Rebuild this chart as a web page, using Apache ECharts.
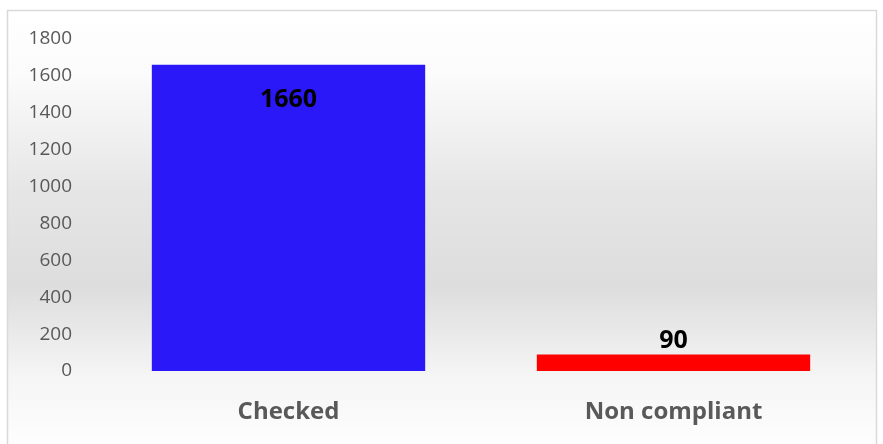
<!DOCTYPE html>
<html>
<head>
<meta charset="utf-8">
<script src="https://cdn.jsdelivr.net/npm/echarts@6/dist/echarts.min.js"></script>
<style>
    html, body { margin: 0; padding: 0; background: #ffffff; }
    #chart { width: 883px; height: 444px; }
</style>
</head>
<body>
<div id="chart"></div>
<script>
// data
const categories = ["Checked", "Non compliant"];
const counts = [1660, 90];
const barColors = ["#2B18F9", "#FF0000"];
const labelPositions = ["insideTop", "top"];

const chartElement = document.getElementById("chart");
const myChart = echarts.init(chartElement);

const option = {
    backgroundColor: "#ffffff",
    animation: false,
    graphic: [
        {
            type: "rect",
            z: -10,
            shape: { x: 7.5, y: 10.5, width: 869, height: 445 },
            style: {
                fill: {
                    type: "linear",
                    x: 0, y: 0, x2: 0, y2: 1,
                    colorStops: [
                        { offset: 0, color: "#ffffff" },
                        { offset: 0.15, color: "#fbfbfb" },
                        { offset: 0.4, color: "#e6e6e6" },
                        { offset: 0.62, color: "#dddddd" },
                        { offset: 0.82, color: "#f5f5f5" },
                        { offset: 1, color: "#ffffff" },
                    ],
                },
                stroke: "#d9d9d9",
                lineWidth: 1.5,
            },
        },
    ],
    grid: {
        left: 96,
        right: 17,
        top: 39,
        bottom: 73,
    },
    xAxis: {
        type: "category",
        data: categories,
        axisLine: { show: false },
        axisTick: { show: false },
        axisLabel: {
            color: "#595959",
            fontFamily: "Open Sans",
            fontWeight: "bold",
            fontSize: 24,
            margin: 29,
        },
    },
    yAxis: {
        type: "value",
        min: 0,
        max: 1800,
        interval: 200,
        splitLine: { show: false },
        axisLine: { show: false },
        axisTick: { show: false },
        axisLabel: {
            color: "#595959",
            fontFamily: "Open Sans",
            fontSize: 19,
            margin: 24,
            formatter: function (v) { return String(v); },
        },
    },
    series: [
        {
            type: "bar",
            barCategoryGap: "29%",
            data: counts.map(function (v, i) {
                return {
                    value: v,
                    itemStyle: { color: barColors[i] },
                    label: {
                        position: labelPositions[i],
                        distance: i === 0 ? 23 : 1,
                    },
                };
            }),
            label: {
                show: true,
                color: "#000000",
                fontFamily: "Open Sans",
                fontWeight: "bold",
                fontSize: 25,
            },
        },
    ],
};
myChart.setOption(option);
</script>
</body>
</html>
